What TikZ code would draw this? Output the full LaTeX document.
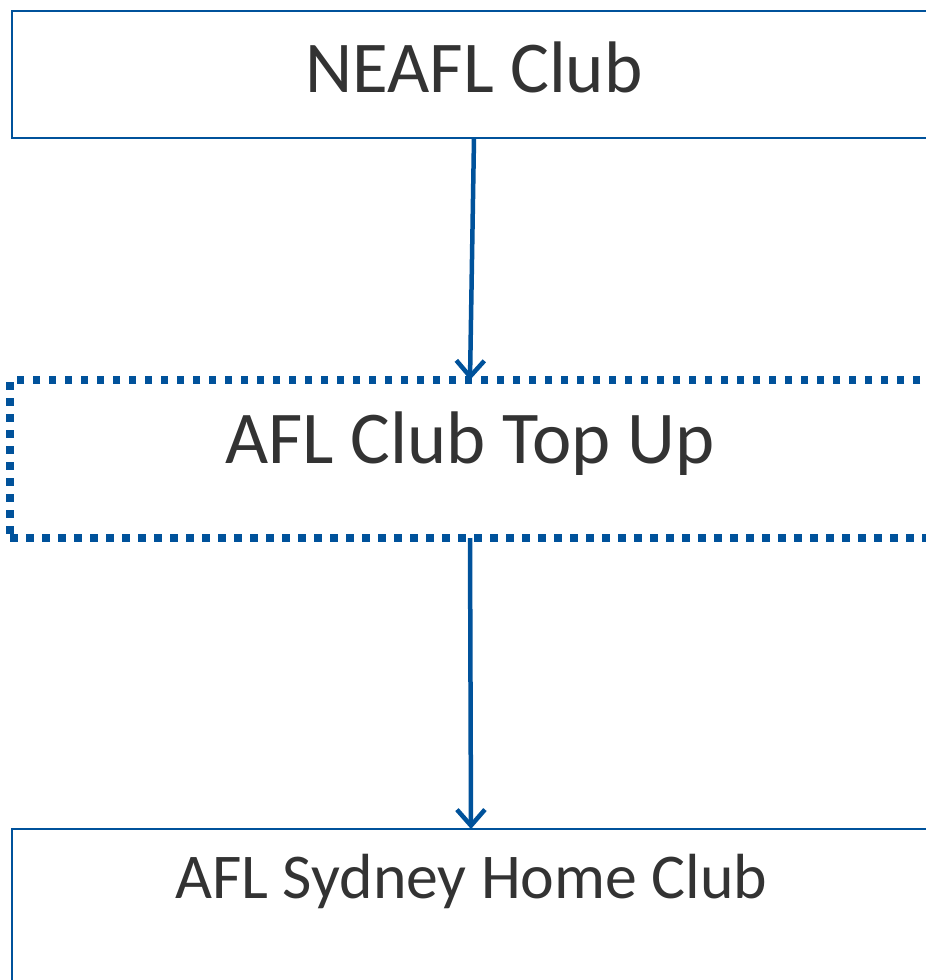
\documentclass[tikz,border=0pt]{standalone}
\usepackage{fontspec}
\setmainfont{Carlito}
\usetikzlibrary{arrows.meta}
\definecolor{boxblue}{RGB}{0,82,155}
\definecolor{txtgray}{RGB}{51,51,51}
\tikzset{
  solidbox/.style={draw=boxblue, line width=2.5pt, rectangle, outer sep=0pt, fill=white},
  dotbox/.style={draw=boxblue, line width=7.5pt, dash pattern=on 7.5pt off 8.5pt, rectangle, outer sep=0pt},
  label/.style={text=txtgray, anchor=base, inner sep=0pt},
  conn/.style={draw=boxblue, line width=4.5pt, -{Straight Barb[length=16pt,width=28pt,line width=4.5pt]}}
}
\begin{document}
\begin{tikzpicture}[x=1pt,y=-1pt]
\useasboundingbox (0,0) rectangle (926,980);
\clip (0,0) rectangle (926,980);
\fill[white] (0,0) rectangle (926,980);
\node[solidbox, minimum width=924pt, minimum height=127pt] (top) at (474,74.5) {};
\node[dotbox, minimum width=920pt, minimum height=158pt] (mid) at (470,459) {};
\node[solidbox, minimum width=918pt, minimum height=300pt] (bot) at (471,979) {};
\node[label, font=\fontsize{73}{78}\selectfont] (t1) at (474,92) {NEAFL Club};
\node[label, font=\fontsize{74.5}{80}\selectfont] (t2) at (470,463) {AFL Club Top Up};
\node[label, font=\fontsize{63.8}{68}\selectfont] (t3) at (471.5,898) {AFL Sydney Home Club};
\draw[conn] (top.south) -- (mid.north);
\draw[conn] (mid.south) -- (bot.north);
\end{tikzpicture}
\end{document}
